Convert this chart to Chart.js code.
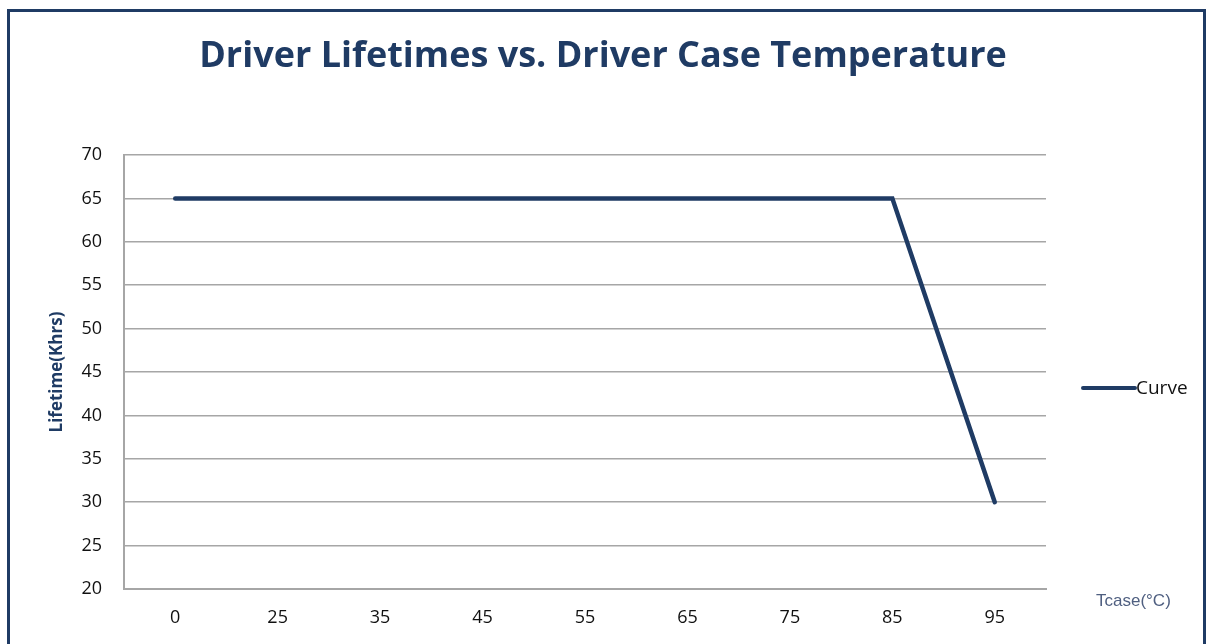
<!DOCTYPE html>
<html>
<head>
<meta charset="utf-8">
<script src="https://cdn.jsdelivr.net/npm/chart.js@4.4.1/dist/chart.umd.min.js"></script>
<style>
  html, body { margin: 0; padding: 0; background: #fff; }
  #wrap { width: 1211px; height: 644px; position: relative; }
</style>
</head>
<body>
<div id="wrap"><canvas id="lifeChart" width="1211" height="644"></canvas></div>
<script>
// data
const tempLabels = ['0', '25', '35', '45', '55', '65', '75', '85', '95'];
const lifetimeKhrs = [65, 65, 65, 65, 65, 65, 65, 65, 30];
const yTicks = [20, 25, 30, 35, 40, 45, 50, 55, 60, 65, 70];

const navy = '#1f3b64';
const gridGray = '#a6a6a6';

// frame, title, legend and x title drawn by hand
const extras = {
  id: 'extras',
  afterDraw(chart) {
    const c = chart.ctx;
    c.save();
    c.strokeStyle = navy;
    c.lineWidth = 3;
    c.strokeRect(8.5, 10.5, 1196, 700);

    // title, centred on the whole frame
    c.fillStyle = navy;
    c.font = 'bold 36px "Open Sans"';
    c.textAlign = 'center';
    c.textBaseline = 'alphabetic';
    c.fillText('Driver Lifetimes vs. Driver Case Temperature', 603, 67);

    // legend
    c.textAlign = 'left';
    c.strokeStyle = navy;
    c.lineWidth = 4;
    c.lineCap = 'round';
    c.beginPath();
    c.moveTo(1083, 388);
    c.lineTo(1135, 388);
    c.stroke();
    c.fillStyle = '#111';
    c.font = '19px "Open Sans"';
    c.textBaseline = 'middle';
    c.fillText('Curve', 1136, 389);

    // x axis title
    c.fillStyle = '#4f5f80';
    c.font = '17px "Liberation Sans"';
    c.fillText('Tcase(°C)', 1096, 601);
    c.restore();
  }
};

new Chart(document.getElementById('lifeChart'), {
  type: 'line',
  data: {
    labels: tempLabels,
    datasets: [{
      label: 'Curve',
      data: lifetimeKhrs,
      borderColor: navy,
      backgroundColor: navy,
      borderWidth: 4.5,
      borderCapStyle: 'round',
      borderJoinStyle: 'miter',
      pointRadius: 0,
      tension: 0
    }]
  },
  options: {
    responsive: false,
    animation: false,
    layout: { padding: { left: 0, right: 165, top: 155, bottom: 0 } },
    plugins: {
      legend: { display: false },
      tooltip: { enabled: false },
      title: { display: false }
    },
    scales: {
      x: {
        offset: true,
        grid: { display: false, drawTicks: false },
        border: { display: true, color: gridGray, width: 2 },
        ticks: { color: '#111', font: { family: '"Open Sans"', size: 18 }, padding: 18, maxRotation: 0 },
        afterFit(scale) { scale.height = 644 - 589; }
      },
      y: {
        min: 20,
        max: 70,
        afterBuildTicks(scale) { scale.ticks = yTicks.map(v => ({ value: v })); },
        grid: { color: gridGray, lineWidth: 1.5, drawTicks: false },
        border: { display: true, color: gridGray, width: 2 },
        ticks: { color: '#111', font: { family: '"Open Sans"', size: 18 }, padding: 22 },
        title: {
          display: true,
          text: 'Lifetime(Khrs)',
          color: navy,
          font: { family: '"Open Sans"', size: 17, weight: 'bold' },
          padding: { top: 47, bottom: 0 }
        },
        afterFit(scale) { scale.width = 124; }
      }
    }
  },
  plugins: [extras]
});
</script>
</body>
</html>
